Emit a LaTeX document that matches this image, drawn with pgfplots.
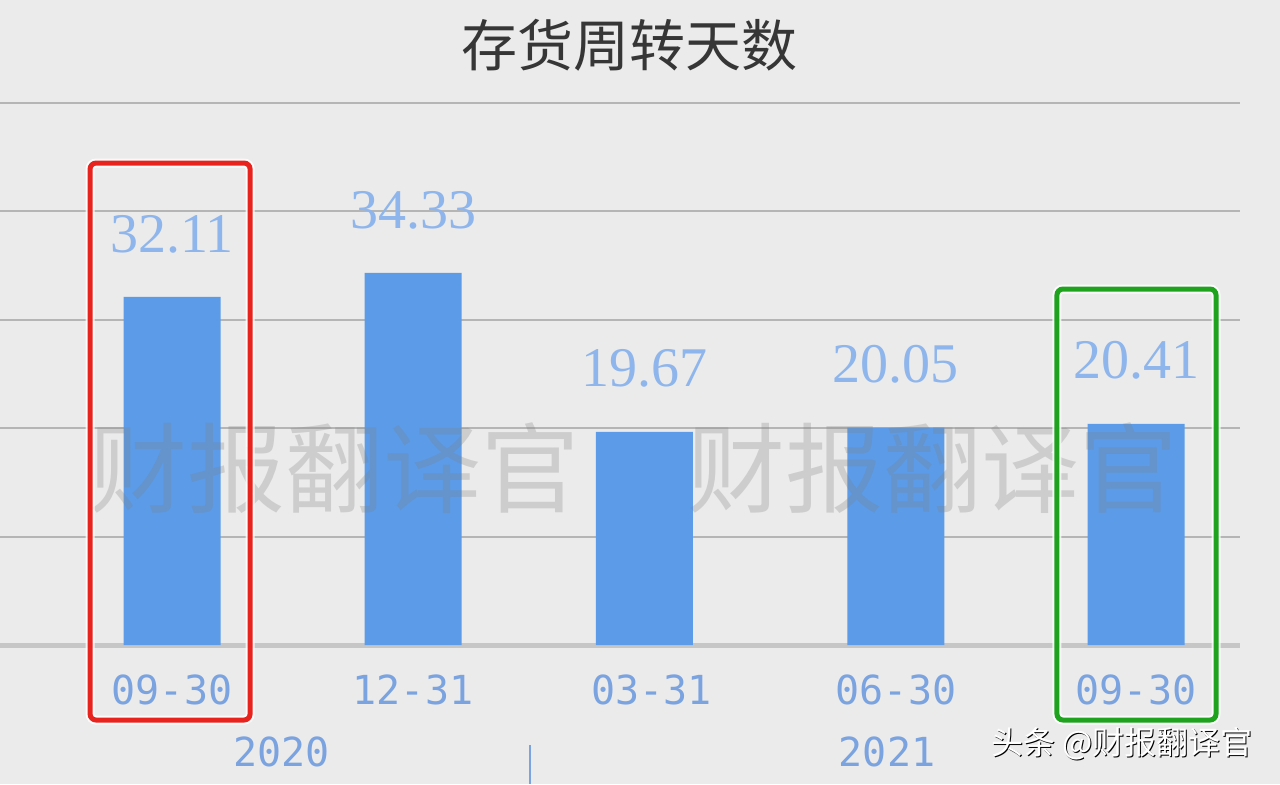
\documentclass[border=0pt]{standalone}
\usepackage{pgfplots}
\pgfplotsset{compat=1.18}
\usepackage{fontspec}
\setmainfont{Liberation Serif}
\newfontfamily\cjk{Noto Sans CJK SC}
\newfontfamily\mono{DejaVu Sans Mono}
\definecolor{bgc}{HTML}{EBEBEB}
\definecolor{gridc}{HTML}{B5B5B5}
\definecolor{basec}{HTML}{C6C6C6}
\definecolor{barc}{HTML}{5B9BE8}
\definecolor{valc}{HTML}{8EB5EC}
\definecolor{tickc}{HTML}{7AA3E0}
\definecolor{titlec}{HTML}{363636}
\definecolor{redbox}{HTML}{E8231E}
\definecolor{greenbox}{HTML}{1FA31F}
\begin{document}
\begin{tikzpicture}
\fill[bgc] (0,0) rectangle (640pt,392pt);
\useasboundingbox (0,0) rectangle (640pt,392pt);
\begin{axis}[at={(0,0)}, anchor=south west, scale only axis,
  width=640pt, height=392pt,
  xmin=-0.7137, xmax=4.5975, ymin=-12.823, ymax=59.502,
  hide axis, clip=false,
  ybar, bar width=48.5pt,
  nodes near coords={\pgfmathprintnumber[fixed,fixed zerofill,precision=2,assume math mode=true]{\pgfplotspointmeta}},
  every node near coord/.append style={font=\fontsize{28}{28}\selectfont, text=valc, anchor=center, yshift=31.5pt},
]
% gridlines
\foreach \g in {10,20,30,40,50}{
  \edef\tmp{\noexpand\draw[gridc, line width=1pt] (axis cs:-0.7137,\g) -- (axis cs:4.432,\g);}
  \tmp
}
\draw[basec, line width=2.5pt] (axis cs:-0.7137,0) -- (axis cs:4.432,0);
\addplot[fill=barc, draw=none] coordinates {(0,32.11) (1,34.33) (1.96,19.67) (3.004,20.05) (4,20.41)};
% watermark
\node[text=gray, opacity=0.28, font=\cjk\fontsize{49}{49}\selectfont] at (axis cs:0.676,16.33) {财报翻译官};
\node[text=gray, opacity=0.28, font=\cjk\fontsize{49}{49}\selectfont] at (axis cs:3.154,16.33) {财报翻译官};
% title
\node[text=titlec, font=\cjk\fontsize{28}{28}\selectfont] at (axis cs:1.900,55.35) {存货周转天数};
% tick labels
\node[text=tickc, font=\mono\fontsize{20}{20}\selectfont] at (axis cs:0,-4.15) {09-30};
\node[text=tickc, font=\mono\fontsize{20}{20}\selectfont] at (axis cs:1,-4.15) {12-31};
\node[text=tickc, font=\mono\fontsize{20}{20}\selectfont] at (axis cs:1.99,-4.15) {03-31};
\node[text=tickc, font=\mono\fontsize{20}{20}\selectfont] at (axis cs:3.004,-4.15) {06-30};
\node[text=tickc, font=\mono\fontsize{20}{20}\selectfont] at (axis cs:4,-4.15) {09-30};
\node[text=tickc, font=\mono\fontsize{20}{20}\selectfont] at (axis cs:0.456,-9.87) {2020};
\node[text=tickc, font=\mono\fontsize{20}{20}\selectfont] at (axis cs:2.967,-9.87) {2021};
\draw[tickc, line width=1pt] (axis cs:1.485,-9.23) -- (axis cs:1.485,-12.823);
% highlight boxes
\draw[white, line width=4.5pt, opacity=0.8, rounded corners=3pt] (axis cs:-0.340,44.46) rectangle (axis cs:0.324,-6.92);
\draw[redbox, line width=2.5pt, rounded corners=3pt] (axis cs:-0.340,44.46) rectangle (axis cs:0.324,-6.92);
\draw[white, line width=4.5pt, opacity=0.8, rounded corners=3pt] (axis cs:3.672,32.84) rectangle (axis cs:4.332,-6.92);
\draw[greenbox, line width=2.5pt, rounded corners=3pt] (axis cs:3.672,32.84) rectangle (axis cs:4.332,-6.92);
% corner mark
\node[text=black, font=\cjk\fontsize{16}{16}\selectfont] at ([xshift=0.6pt,yshift=-0.6pt]axis cs:3.942,-9.13) {头条 @财报翻译官};
\node[text=white, font=\cjk\fontsize{16}{16}\selectfont] at (axis cs:3.942,-9.13) {头条 @财报翻译官};
\end{axis}
\end{tikzpicture}
\end{document}
